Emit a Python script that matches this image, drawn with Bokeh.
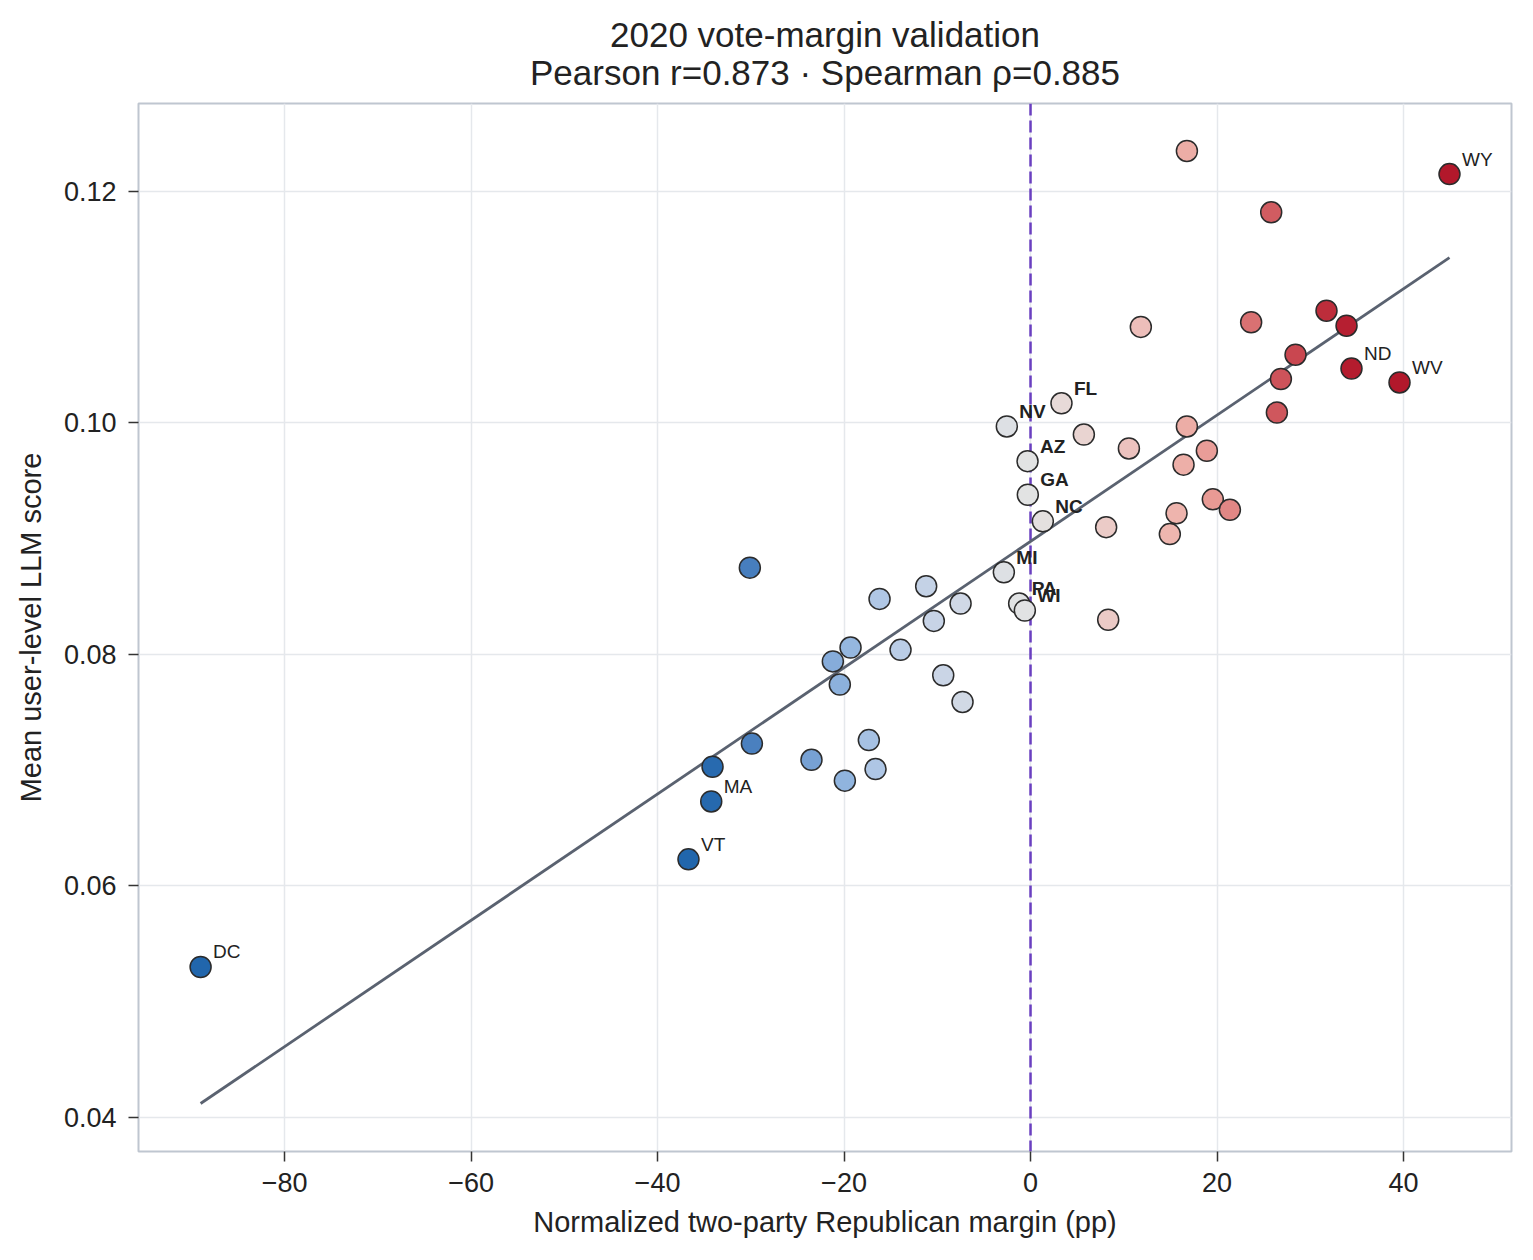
import numpy as np
from bokeh.plotting import figure
from bokeh.models import (ColumnDataSource, Span, Title, FixedTicker, PrintfTickFormatter,
                          CustomJSTickFormatter, Range1d)
from bokeh.transform import linear_cmap
from bokeh.core.properties import value
from bokeh.embed import file_html
from bokeh.resources import INLINE

# ---------------- data ----------------
labels = ["WY", "ND", "WV", "FL", "NV", "AZ", "GA", "NC", "MI", "PA", "WI", "MA", "VT", "DC",
          "", "", "", "", "", "", "", "", "", "", "", "", "", "", "", "", "", "", "",
          "", "", "", "", "", "", "", "", "", "", "", "", "", "", "", "", "", ""]
margin = [44.93, 34.42, 39.57, 3.32, -2.54, -0.32, -0.29, 1.32, -2.86, -1.22, -0.61, -34.24, -36.68, -89.0,
          16.77, 25.81, 11.83, 23.66, 31.74, 33.89, 28.42, 26.85, 26.42, 16.77, 5.72, 10.55, 18.91,
          16.41, 8.11, 15.66, 14.94, 19.55, 21.38, 8.33, -7.50, -30.10, -16.19, -11.19, -10.37,
          -19.30, -21.20, -13.94, -20.45, -9.36, -7.29, -29.88, -23.49, -17.34, -16.62, -19.91, -34.10]
score = [0.1215, 0.1047, 0.1035, 0.1017, 0.0997, 0.0967, 0.0938, 0.0915, 0.0871, 0.0844, 0.0838, 0.0673, 0.0623, 0.0530,
         0.1235, 0.1182, 0.1083, 0.1087, 0.1097, 0.1084, 0.1059, 0.1038, 0.1009, 0.0997, 0.0990, 0.0978, 0.0976,
         0.0964, 0.0910, 0.0922, 0.0904, 0.0934, 0.0925, 0.0830, 0.0844, 0.0875, 0.0848, 0.0859, 0.0829,
         0.0806, 0.0794, 0.0804, 0.0774, 0.0782, 0.0759, 0.0723, 0.0709, 0.0726, 0.0701, 0.0691, 0.0703]
swing_states = ["FL", "NV", "AZ", "GA", "NC", "MI", "PA", "WI"]

x_ticks = [-80, -60, -40, -20, 0, 20, 40]
y_ticks = [0.04, 0.06, 0.08, 0.10, 0.12]

title_line1 = "2020 vote-margin validation"
title_line2 = "Pearson r=0.873 \u00b7 Spearman \u03c1=0.885"
x_label = "Normalized two-party Republican margin (pp)"
y_label = "Mean user-level LLM score"

# ---------------- colour map ----------------
stops = [(-35, "#2166ac"), (-30, "#4a80bf"), (-23, "#7aa3d4"), (-20, "#8fb3de"), (-16, "#b3c9e6"),
         (-10, "#c8d4e6"), (-5, "#d8dde5"), (0, "#e3e3e3"), (5, "#e9d6d3"), (10, "#ecc4c0"),
         (16, "#eeb3ac"), (20, "#e79792"), (25, "#d46467"), (30, "#c43a46"), (35, "#b2182b")]
sp = np.array([s[0] for s in stops], dtype=float)
rgb = np.array([[int(c[i:i + 2], 16) for i in (1, 3, 5)] for _, c in stops], dtype=float)
grid_v = np.linspace(-35, 35, 256)
palette = []
for v in grid_v:
    r, g, b = (np.interp(v, sp, rgb[:, k]) for k in range(3))
    palette.append("#%02x%02x%02x" % (int(round(r)), int(round(g)), int(round(b))))

FONT = "Liberation Sans"
TXT = "#222222"

src = ColumnDataSource(dict(margin=margin, score=score, label=labels))

p = figure(width=1523, height=1248,
           x_range=Range1d(-95.66, 51.58), y_range=Range1d(0.03706, 0.1276),
           output_backend="svg", toolbar_location=None,
           min_border_left=138, min_border_right=12, min_border_top=103, min_border_bottom=97)

p.title.text = title_line1
p.title.align = "center"
p.title.text_font = FONT
p.title.text_font_size = "35px"
p.title.text_font_style = "normal"
p.title.text_color = TXT
p.title.standoff = -30
p.add_layout(Title(text=title_line2, align="center", text_font=FONT, text_font_size="35px",
                   text_font_style="normal", text_color=TXT, standoff=24), "above")

p.outline_line_color = "#bfc6d0"
p.outline_line_width = 2
p.background_fill_color = "white"
p.border_fill_color = "white"

for ax in (p.xaxis, p.yaxis):
    ax.axis_line_color = None
    ax.major_tick_line_color = "#333333"
    ax.major_tick_line_width = 1.5
    ax.major_tick_out = 10
    ax.major_tick_in = 0
    ax.minor_tick_line_color = None
    ax.major_label_text_font = FONT
    ax.major_label_text_font_size = "27px"
    ax.major_label_text_color = TXT
    ax.axis_label_text_font = FONT
    ax.axis_label_text_font_size = "29px"
    ax.axis_label_text_font_style = "normal"
    ax.axis_label_text_color = TXT

p.xaxis.axis_label = x_label
p.yaxis.axis_label = y_label
p.xaxis.ticker = FixedTicker(ticks=x_ticks)
p.yaxis.ticker = FixedTicker(ticks=y_ticks)
p.xaxis.formatter = CustomJSTickFormatter(code="return tick < 0 ? '\u2212' + Math.abs(tick).toFixed(0) : tick.toFixed(0);")
p.yaxis.formatter = PrintfTickFormatter(format="%.2f")
p.xaxis.major_label_standoff = 11
p.yaxis.major_label_standoff = 12
p.xaxis.axis_label_standoff = 11
p.yaxis.axis_label_standoff = 14

p.xgrid.ticker = FixedTicker(ticks=x_ticks)
p.ygrid.ticker = FixedTicker(ticks=y_ticks)
p.grid.grid_line_color = "#e5e8ec"
p.grid.grid_line_width = 1.5

# zero line
p.add_layout(Span(location=0, dimension="height", line_color="#6a3fc0", line_width=2.5,
                  line_dash="12 5", level="underlay"))

# regression line
mx = np.array(margin)
sy = np.array(score)
slope, icpt = np.polyfit(mx, sy, 1)
fx = np.array([mx.min(), mx.max()])
p.line(fx, slope * fx + icpt, line_color="#5a6270", line_width=2.8)

# points
p.scatter("margin", "score", source=src, size=21,
          fill_color=linear_cmap("margin", palette, low=-35, high=35),
          fill_alpha=1.0, line_color="#2b2b2b", line_width=1.5)

# labels
norm_idx = [i for i, l in enumerate(labels) if l and l not in swing_states]
bold_idx = [i for i, l in enumerate(labels) if l in swing_states]
for idx, style in ((norm_idx, "normal"), (bold_idx, "bold")):
    s = ColumnDataSource(dict(x=[margin[i] for i in idx], y=[score[i] for i in idx],
                              t=[labels[i] for i in idx]))
    p.text("x", "y", text="t", source=s, x_offset=12.5, y_offset=-15,
           text_font=value(FONT), text_font_size="19px", text_font_style=style,
           text_color=TXT, text_baseline="alphabetic", text_align="left")

open("out.html", "w").write(file_html(p, INLINE))
